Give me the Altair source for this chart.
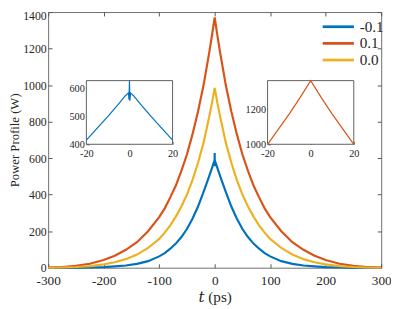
import altair as alt
import pandas as pd

# ---- data (t in ps, power in W) ----
t_main = [-300, -275, -250, -225, -200, -180, -160, -140, -120, -100, -90, -80, -70, -60, -50, -40, -30, -20, -10, -5,
          0, 5, 10, 20, 30, 40, 50, 60, 70, 80, 90, 100, 120, 140, 160, 180, 200, 225, 250, 275, 300]
p_orange = [1, 4, 10, 22, 42, 66, 98, 140, 200, 277, 325, 385, 450, 530, 620, 730, 855, 1000, 1175, 1270,
            1370, 1270, 1175, 1000, 855, 730, 620, 530, 450, 385, 325, 277, 200, 140, 98, 66, 42, 22, 10, 4, 1]
p_yellow = [0, 1, 4, 9, 18, 30, 47, 72, 108, 158, 192, 232, 280, 335, 400, 480, 575, 685, 825, 900,
            985, 900, 825, 685, 575, 480, 400, 335, 280, 232, 192, 158, 108, 72, 47, 30, 18, 9, 4, 1, 0]

t_blue = [-300, -275, -250, -225, -200, -180, -160, -140, -120, -100, -90, -80, -70, -60, -50, -40, -30, -20, -10, -5,
          -2, -0.5, -0.2, 0, 0.2, 0.5, 2,
          5, 10, 20, 30, 40, 50, 60, 70, 80, 90, 100, 120, 140, 160, 180, 200, 225, 250, 275, 300]
p_blue = [0, 0, 0.5, 1, 3, 7, 12, 21, 36, 62, 80, 104, 132, 168, 212, 268, 335, 415, 500, 545,
          573, 584, 560, 628, 556, 584, 573,
          545, 500, 415, 335, 268, 212, 168, 132, 104, 80, 62, 36, 21, 12, 7, 3, 1, 0.5, 0, 0]

series_names = ["-0.1", "0.1", "0.0"]
series_colors = ["#0072BD", "#D95319", "#EDB120"]

x_ticks = [-300, -200, -100, 0, 100, 200, 300]
y_ticks = [0, 200, 400, 600, 800, 1000, 1200, 1400]
inset_x_ticks = [-20, 0, 20]
inset1_y_ticks = [400, 500, 600]
inset2_y_ticks = [1000, 1200]
inset1_y_domain = [400, 628]
inset2_y_domain = [1000, 1370]

rows = []
for t, p in zip(t_blue, p_blue):
    rows.append({"t": t, "P": p, "series": "-0.1", "k": 0})
for t, p in zip(t_main, p_orange):
    rows.append({"t": t, "P": p, "series": "0.1", "k": 1})
for t, p in zip(t_main, p_yellow):
    rows.append({"t": t, "P": p, "series": "0.0", "k": 2})
df = pd.DataFrame(rows)

W, H = 340, 261
FONT = "Liberation Serif, Times New Roman, DejaVu Serif, serif"
AX = "#262626"
TICK = "#555555"

xs = alt.Scale(domain=[-300, 300], nice=False, zero=False)
ys = alt.Scale(domain=[0, 1400], nice=False)
lab = "'' + datum.value"
top_test = "datum.value == 1400"

main = alt.Chart(df).mark_line(strokeWidth=2.2).encode(
    x=alt.X("t:Q", scale=xs, axis=alt.Axis(values=x_ticks, title="𝑡 (ps)", tickSize=0, domain=False, grid=False,
                                           labelExpr=lab, labelPadding=6, labelFontSize=13.5, labelFlush=False,
                                           titleFontSize=15.5, titlePadding=3, titleFontWeight="normal")),
    y=alt.Y("P:Q", scale=ys, axis=alt.Axis(values=y_ticks, title="Power Profile (W)", tickSize=0, domain=False,
                                           grid=False, labelExpr=lab, labelPadding=2, labelFontSize=12,
                                           labelFlush=False,
                                           labelBaseline=alt.condition(top_test, alt.value("top"), alt.value("middle")),
                                           labelOffset=alt.condition(top_test, alt.value(-1), alt.value(0)),
                                           titleFontSize=13, titlePadding=1, titleFontWeight="normal")),
    color=alt.Color("series:N", scale=alt.Scale(domain=series_names, range=series_colors),
                    legend=alt.Legend(title=None, orient="none", legendX=298, legendY=7,
                                      symbolType="M-4.2,0H1", symbolSize=150, symbolStrokeWidth=2.8,
                                      labelFontSize=15.5, labelFont=FONT, labelColor=AX, labelOffset=4,
                                      rowPadding=0, padding=0)),
    order=alt.Order("k:Q"),
)

# inward ticks for the main frame (bottom/left sides)
ticks_a = alt.Chart(df).mark_point(opacity=0).encode(
    x=alt.X("t:Q", scale=xs, axis=alt.Axis(orient="top", offset=-H, values=x_ticks, labels=False, domain=False,
                                           tickSize=4, tickColor=TICK, grid=False, title=None)),
    y=alt.Y("P:Q", scale=ys, axis=alt.Axis(orient="right", offset=-W, values=y_ticks, labels=False, domain=False,
                                           tickSize=4, tickColor=TICK, grid=False, title=None)),
)
# inward ticks for the main frame (top/right sides)
ticks_b = alt.Chart(df).mark_point(opacity=0).encode(
    x=alt.X("t:Q", scale=xs, axis=alt.Axis(orient="bottom", offset=-H, values=x_ticks, labels=False, domain=False,
                                           tickSize=4, tickColor=TICK, grid=False, title=None)),
    y=alt.Y("P:Q", scale=ys, axis=alt.Axis(orient="left", offset=-W, values=y_ticks, labels=False, domain=False,
                                           tickSize=4, tickColor=TICK, grid=False, title=None)),
)


def inset(series, color, y_domain, y_ticks_i, x_range, y_range):
    box_df = pd.DataFrame([{"x0": inset_x_ticks[0], "x1": inset_x_ticks[-1], "y0": y_domain[0], "y1": y_domain[1]}])
    sx = alt.Scale(domain=[inset_x_ticks[0], inset_x_ticks[-1]], range=x_range, nice=False, zero=False)
    sy = alt.Scale(domain=y_domain, range=y_range, nice=False, zero=False)
    box = alt.Chart(box_df).mark_rect(fill="white", stroke="#4d4d4d", strokeWidth=0.9).encode(
        x=alt.X("x0:Q", scale=sx, axis=alt.Axis(orient="bottom", offset=y_range[0] - H, values=inset_x_ticks,
                                                tickSize=0, domain=False, grid=False, title=None, labelExpr=lab,
                                                labelFontSize=10.5, labelPadding=4, labelFlush=False)),
        x2="x1:Q",
        y=alt.Y("y0:Q", scale=sy, axis=alt.Axis(orient="left", offset=-x_range[0], values=y_ticks_i,
                                                tickSize=0, domain=False, grid=False, title=None, labelExpr=lab,
                                                labelFontSize=10.5, labelPadding=2, labelFlush=False)),
        y2="y1:Q",
    )
    line = alt.Chart(df).transform_filter(
        (alt.datum.series == series) & (alt.datum.t >= inset_x_ticks[0]) & (alt.datum.t <= inset_x_ticks[-1])
    ).mark_line(color=color, strokeWidth=1.2).encode(
        x=alt.X("t:Q", scale=sx, axis=None),
        y=alt.Y("P:Q", scale=sy, axis=None),
    )
    tk = alt.Chart(box_df).mark_point(opacity=0).encode(
        x=alt.X("x0:Q", scale=sx, axis=alt.Axis(orient="top", offset=-y_range[0], values=inset_x_ticks,
                                                labels=False, domain=False, tickSize=3, tickColor=TICK,
                                                grid=False, title=None)),
        y=alt.Y("y0:Q", scale=sy, axis=alt.Axis(orient="right", offset=x_range[0] - W, values=y_ticks_i,
                                                labels=False, domain=False, tickSize=3, tickColor=TICK,
                                                grid=False, title=None)),
    )
    return [box, line, tk]


in1 = inset("-0.1", series_colors[0], inset1_y_domain, inset1_y_ticks, [39, 127], [135, 70])
in2 = inset("0.1", series_colors[1], inset2_y_domain, inset2_y_ticks, [224, 312], [135, 70])

chart = alt.layer(main, ticks_a, ticks_b, *in1, *in2).resolve_scale(
    x="independent", y="independent", color="independent"
).properties(
    width=W, height=H,
    autosize=alt.AutoSizeParams(type="none"),
    padding={"left": 41, "top": 1, "right": 10, "bottom": 38},
).configure(
    font=FONT, background="white"
).configure_view(
    stroke="#6e6e6e", strokeWidth=1
).configure_axis(
    labelFont=FONT, titleFont=FONT, labelColor=AX, titleColor=AX
).configure_legend(
    labelFont=FONT
)

chart.save("out.html", embed_options={"renderer": "svg", "actions": False})
